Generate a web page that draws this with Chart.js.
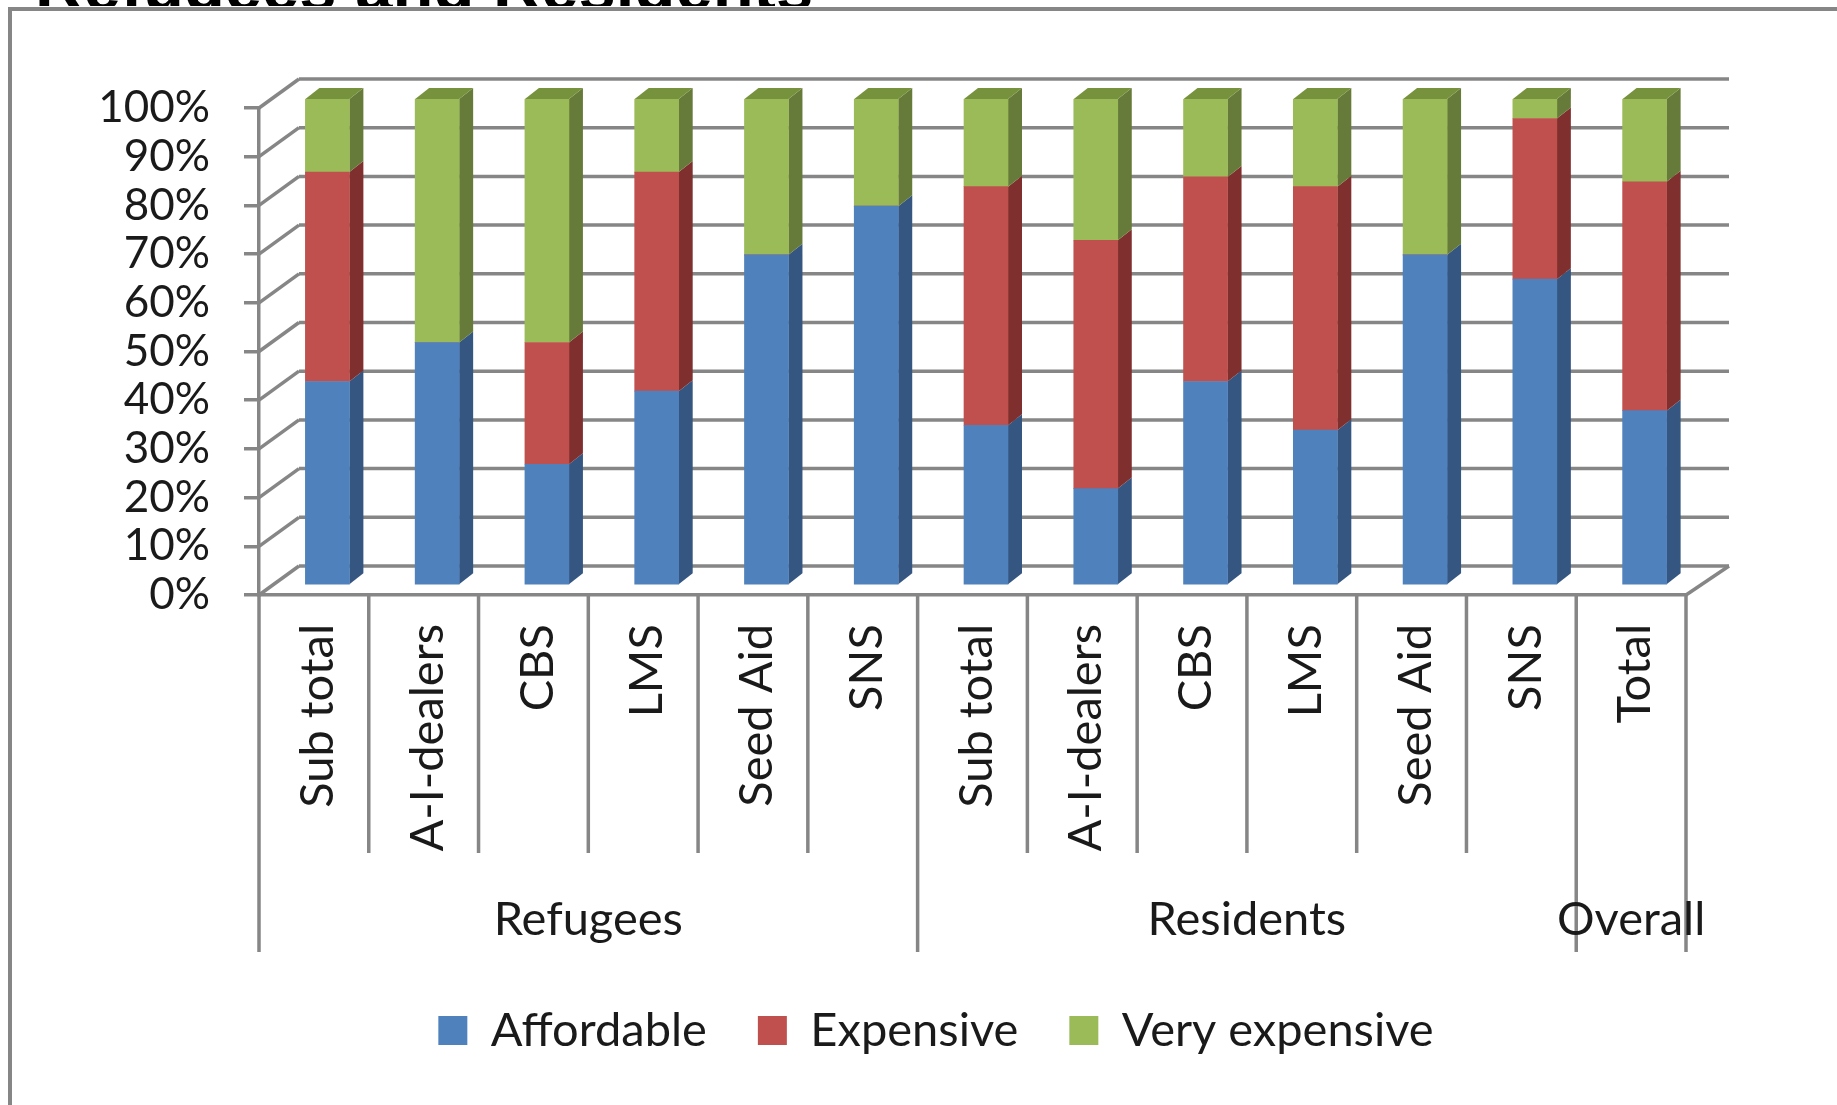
<!DOCTYPE html>
<html>
<head>
<meta charset="utf-8">
<title>Refugees and Residents</title>
<script src="https://cdn.jsdelivr.net/npm/chart.js@4"></script>
<style>
  html, body { margin: 0; padding: 0; background: #fff; overflow: hidden; }
  #wrap { position: relative; width: 1837px; height: 1105px; overflow: hidden; }
  #frame { position: absolute; left: 8px; top: 7px; width: 1900px; height: 1200px; border: 4px solid #868686; }
  #title { position: absolute; left: 0; top: 0; width: 1837px; height: 6px; overflow: hidden; }
  #title span { position: absolute; left: 35px; bottom: -14px; font: bold 67px "Liberation Sans", sans-serif; line-height: 67px; white-space: nowrap; color: #000; }
  canvas { position: absolute; left: 0; top: 0; filter: blur(0.6px); }
</style>
</head>
<body>
<div id="wrap">
  <div id="title"><span>Refugees and Residents</span></div>
  <div id="frame"></div>
  <canvas id="priceChart" width="1837" height="1105"></canvas>
</div>
<script>
const categories = ["Sub total", "A-I-dealers", "CBS", "LMS", "Seed Aid", "SNS", "Sub total", "A-I-dealers", "CBS", "LMS", "Seed Aid", "SNS", "Total"];
const groupNames = ["Refugees", "Residents", "Overall"];
const groupSizes = [6, 6, 1];
const affordable = [42, 50, 25, 40, 68, 78, 33, 20, 42, 32, 68, 63, 36];
const expensive = [43, 0, 25, 45, 0, 0, 49, 51, 42, 50, 0, 33, 47];
const veryExpensive = [15, 50, 50, 15, 32, 22, 18, 29, 16, 18, 32, 4, 17];

const AXIS_COLOR = "#868686";
const TEXT_COLOR = "#1a1a1a";
const FONT = "Lato";
const WALL_LEFT_DX = 40; // how far the back wall sits from the front axis
const WALL_RIGHT_DX = 43;
const WALL_DY = -29;
const BAR_DX = 13.5; // bars stand between the front axis and the wall
const BAR_DY = -9;
const SIDE_DX = 14;
const SIDE_DY = -11;
const SIDE_COLORS = ["#345680", "#7f302e", "#667b39"];
const TOP_COLOR = "#76923c";

function polygon(ctx, points, color) {
  ctx.fillStyle = color;
  ctx.beginPath();
  points.forEach((p, i) => (i ? ctx.lineTo(p[0], p[1]) : ctx.moveTo(p[0], p[1])));
  ctx.closePath();
  ctx.fill();
}

function strokeLine(ctx, x1, y1, x2, y2) {
  ctx.beginPath();
  ctx.moveTo(x1, y1);
  ctx.lineTo(x2, y2);
  ctx.stroke();
}

// back wall, side wall and floor of the fake 3D box, plus the bar depth faces
const boxPlugin = {
  id: "box3d",
  afterLayout(chart) {
    // the legend is centred on the picture, not on the plot
    chart.legend.left += 93;
    chart.legend.right += 93;
  },
  beforeDatasetsDraw(chart) {
    const { ctx, scales } = chart;
    const x = scales.x;
    const y = scales.y;
    ctx.save();
    ctx.strokeStyle = AXIS_COLOR;
    ctx.lineWidth = 3.5;
    y.ticks.forEach((t) => {
      const py = y.getPixelForValue(t.value);
      strokeLine(ctx, x.left, py, x.left + WALL_LEFT_DX, py + WALL_DY);
      strokeLine(ctx, x.left + WALL_LEFT_DX, py + WALL_DY, x.right + WALL_RIGHT_DX, py + WALL_DY);
    });
    strokeLine(ctx, x.right, y.bottom, x.right + WALL_RIGHT_DX, y.bottom + WALL_DY);
    ctx.restore();

    ctx.save();
    ctx.translate(BAR_DX, BAR_DY);
    chart.data.datasets.forEach((ds, d) => {
      chart.getDatasetMeta(d).data.forEach((bar, i) => {
        if (!ds.data[i]) return;
        const r = bar.x + bar.width / 2;
        polygon(ctx, [
          [r, bar.y],
          [r + SIDE_DX, bar.y + SIDE_DY],
          [r + SIDE_DX, bar.base + SIDE_DY],
          [r, bar.base],
        ], SIDE_COLORS[d]);
        if (d === chart.data.datasets.length - 1) {
          const l = bar.x - bar.width / 2;
          polygon(ctx, [
            [l, bar.y],
            [l + SIDE_DX, bar.y + SIDE_DY],
            [r + SIDE_DX, bar.y + SIDE_DY],
            [r, bar.y],
          ], TOP_COLOR);
        }
      });
    });
  },
  afterDatasetsDraw(chart) {
    chart.ctx.restore();
  },
  afterDraw(chart) {
    // two level category axis: separators and group names
    const { ctx, scales } = chart;
    const x = scales.x;
    const step = x.width / categories.length;
    const longEnds = [0];
    groupSizes.reduce((sum, n) => {
      longEnds.push(sum + n);
      return sum + n;
    }, 0);
    ctx.save();
    ctx.strokeStyle = AXIS_COLOR;
    ctx.lineWidth = 3.5;
    for (let i = 0; i <= categories.length; i++) {
      const px = x.left + i * step;
      strokeLine(ctx, px, x.top, px, longEnds.includes(i) ? 952 : 853);
    }
    ctx.fillStyle = TEXT_COLOR;
    ctx.font = "47px " + FONT;
    ctx.textAlign = "center";
    ctx.textBaseline = "middle";
    let start = 0;
    groupNames.forEach((name, g) => {
      ctx.fillText(name, x.left + (start + groupSizes[g] / 2) * step, 920);
      start += groupSizes[g];
    });
    ctx.restore();
  },
};

new Chart(document.getElementById("priceChart").getContext("2d"), {
  type: "bar",
  plugins: [boxPlugin],
  data: {
    labels: categories,
    datasets: [
      { label: "Affordable", data: affordable, backgroundColor: "#4f81bd" },
      { label: "Expensive", data: expensive, backgroundColor: "#c0504d" },
      { label: "Very expensive", data: veryExpensive, backgroundColor: "#9bbb59" },
    ],
  },
  options: {
    responsive: false,
    animation: false,
    layout: { padding: { left: 0, right: 151, top: 108, bottom: 41 } },
    datasets: { bar: { barThickness: 44 } },
    plugins: {
      tooltip: { enabled: false },
      legend: {
        position: "bottom",
        labels: {
          font: { family: FONT, size: 47 },
          color: TEXT_COLOR,
          boxWidth: 29,
          boxHeight: 29,
          padding: 51,
        },
      },
    },
    scales: {
      x: {
        stacked: true,
        afterFit: (scale) => {
          scale.height = 361;
        },
        border: { color: AXIS_COLOR, width: 3.5 },
        grid: { display: false },
        ticks: {
          autoSkip: false,
          maxRotation: 90,
          minRotation: 90,
          padding: 21,
          labelOffset: 4,
          color: TEXT_COLOR,
          font: { family: FONT, size: 47 },
        },
      },
      y: {
        stacked: true,
        min: 0,
        max: 100,
        afterFit: (scale) => {
          scale.width = 259;
        },
        border: { color: AXIS_COLOR, width: 3.5 },
        grid: { drawOnChartArea: false, color: AXIS_COLOR, lineWidth: 3.5, tickLength: 15 },
        ticks: {
          autoSkip: false,
          stepSize: 10,
          padding: 34,
          color: TEXT_COLOR,
          font: { family: FONT, size: 44 },
          callback: (v) => v + "%",
        },
      },
    },
  },
});
</script>
</body>
</html>
